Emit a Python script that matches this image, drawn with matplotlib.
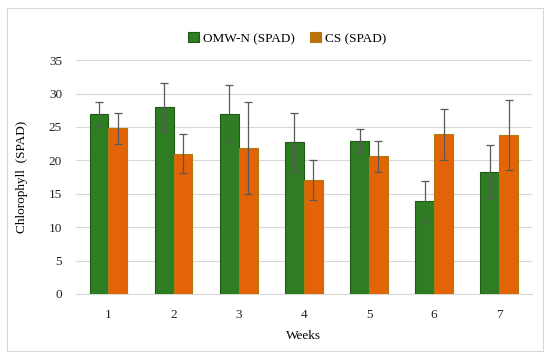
import numpy as np
import matplotlib.pyplot as plt
from matplotlib.patches import Rectangle

weeks = ['1', '2', '3', '4', '5', '6', '7']
omw_n = [27.0, 28.0, 27.0, 22.7, 22.9, 13.9, 18.3]
omw_n_err = [1.8, 3.6, 4.3, 4.4, 1.8, 3.0, 4.0]
cs = [24.8, 21.0, 21.9, 17.0, 20.6, 23.9, 23.8]
cs_err = [2.3, 2.9, 6.9, 3.0, 2.3, 3.8, 5.2]

plt.rcParams['font.family'] = ['Liberation Serif', 'DejaVu Serif']

fig = plt.figure(figsize=(5.5, 3.57), dpi=100)
ax = fig.add_axes([0.138, 0.1765, 0.829, 0.655])

# light border round the whole chart
fig.patches.append(Rectangle((0.0127, 0.0168), 0.975, 0.961, transform=fig.transFigure,
                             fill=False, edgecolor='#d9d9d9', linewidth=0.8))

x = np.arange(len(weeks))
w = 0.29
ekw = dict(ecolor='#595959', elinewidth=0.9, capsize=3, capthick=0.9)
ax.bar(x - w / 2, omw_n, w, yerr=omw_n_err, color='#2E7D22', edgecolor='#1E5A14',
       linewidth=0.8, label='OMW-N (SPAD)', error_kw=ekw, zorder=3)
ax.bar(x + w / 2, cs, w, yerr=cs_err, color='#E36407', edgecolor='#B07A10',
       linewidth=0.8, label='CS (SPAD)', error_kw=ekw, zorder=3)

ax.set_xlim(-0.5, 6.5)
ax.set_ylim(0, 35)
ax.set_yticks(range(0, 36, 5))
ax.set_xticks(x)
ax.set_xticklabels(weeks)
ax.grid(axis='y', color='#d9d9d9', linewidth=0.8, zorder=0)
for s in ['top', 'right', 'left']:
    ax.spines[s].set_visible(False)
ax.spines['bottom'].set_color('#d9d9d9')
ax.tick_params(axis='y', length=0, labelsize=9.5, colors='#222222', pad=10)
ax.tick_params(axis='x', length=0, labelsize=9.5, colors='#222222', pad=10.5)
ax.set_xlabel('Weeks', fontsize=9.5, labelpad=7)
ax.set_ylabel('Chlorophyll  (SPAD)', fontsize=9.5, labelpad=15)

leg = fig.legend(loc='center', bbox_to_anchor=(0.522, 0.892), ncol=2, frameon=False,
                 fontsize=9.5, handlelength=0.8, handleheight=0.8, handletextpad=0.3,
                 columnspacing=1.2)
leg.legend_handles[1].set_facecolor('#C0700A')

fig.savefig('out.png', dpi=100)
